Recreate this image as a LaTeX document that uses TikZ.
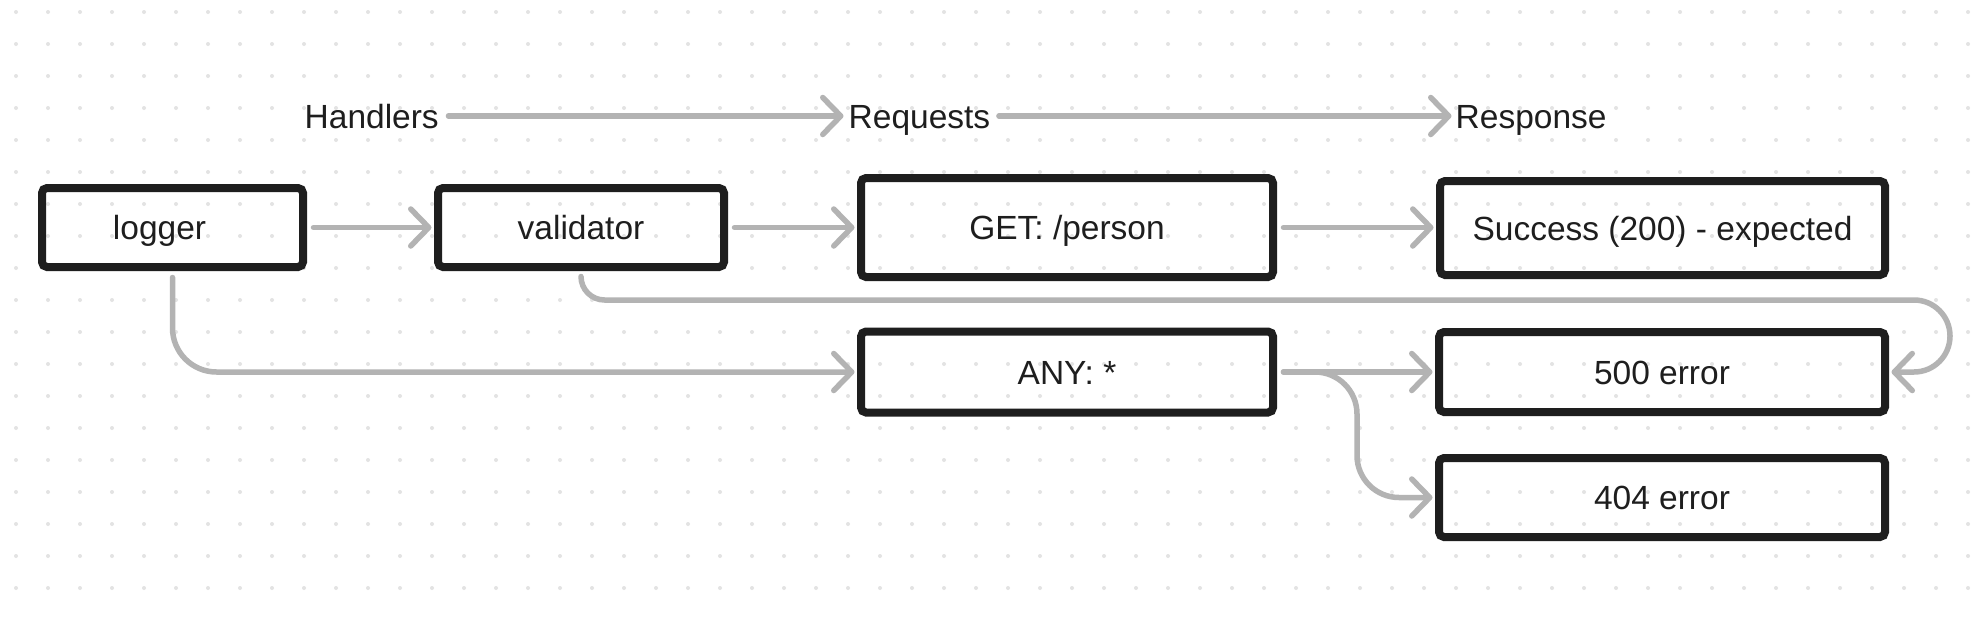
\documentclass[tikz,border=0pt]{standalone}
\usepackage{fontspec}
\setmainfont{Liberation Sans}
\usetikzlibrary{arrows.meta}
\definecolor{ink}{HTML}{1E1E1E}
\definecolor{wire}{HTML}{B3B3B3}
\definecolor{dotc}{HTML}{E3E3E3}
\begin{document}
\begin{tikzpicture}[x=1pt,y=1pt,
  txt/.style={text=ink, text height=24pt, text depth=0pt, font=\fontsize{33.5}{40}\selectfont},
  box/.style={txt, draw=ink, line width=8pt, rounded corners=5pt, inner sep=0pt},
  lbl/.style={txt, inner sep=0pt, anchor=west},
  conn/.style={draw=wire, line width=5.5pt, line cap=round, line join=round,
    -{Straight Barb[length=18pt,width=37pt,round]}, shorten <=6.5pt, shorten >=2.5pt}]
\useasboundingbox (0,0) rectangle (1984,-616);
\fill[white] (0,0) rectangle (1984,-616);
\foreach \i in {0,...,61}{\foreach \j in {0,...,18}{\fill[dotc] (16+32*\i,-12-32*\j) circle[radius=2pt];}}
% labels
\node[lbl] (handlers) at (304.5,-116) {Handlers};
\node[lbl] (requests) at (848.5,-116) {Requests};
\node[lbl] (response) at (1455.5,-116) {Response};
% boxes
\node[box, minimum width=261pt, minimum height=79pt] (logger) at (172.5,-227.5) {logger\rule{26pt}{0pt}};
\node[box, minimum width=286pt, minimum height=79pt] (validator) at (581,-227.5) {validator};
\node[box, minimum width=412pt, minimum height=99pt] (get) at (1067,-227.5) {GET: /person};
\node[box, minimum width=445pt, minimum height=94pt] (success) at (1662.5,-228) {Success (200) - expected};
\node[box, minimum width=412pt, minimum height=81pt] (any) at (1067,-372) {ANY: *};
\node[box, minimum width=446pt, minimum height=80pt] (e500) at (1662,-372) {500 error};
\node[box, minimum width=446pt, minimum height=79pt] (e404) at (1662,-497.5) {404 error};
% connectors
\draw[conn, shorten <=9.5pt, shorten >=5pt] (handlers.east) -- (requests.west);
\draw[conn, shorten <=8.5pt, shorten >=4pt] (requests.east) -- (response.west);
\draw[conn] (logger.east) -- (validator.west);
\draw[conn] (validator.east) -- (get.west);
\draw[conn] (get.east) -- (get.east -| success.west);
\draw[conn, rounded corners=44pt] (logger.south) |- (any.west);
\draw[conn] (any.east) -- (e500.west);
\draw[conn, rounded corners=42pt] (any.east) -- ++(80,0) |- (e404.west);
\draw[conn, shorten <=0pt] ([yshift=-5.5pt]validator.south) arc[start angle=180,end angle=270,radius=23.5pt] -- (1914,-300) arc[start angle=90,end angle=-90,radius=36pt] -- (e500.east);
\end{tikzpicture}
\end{document}
